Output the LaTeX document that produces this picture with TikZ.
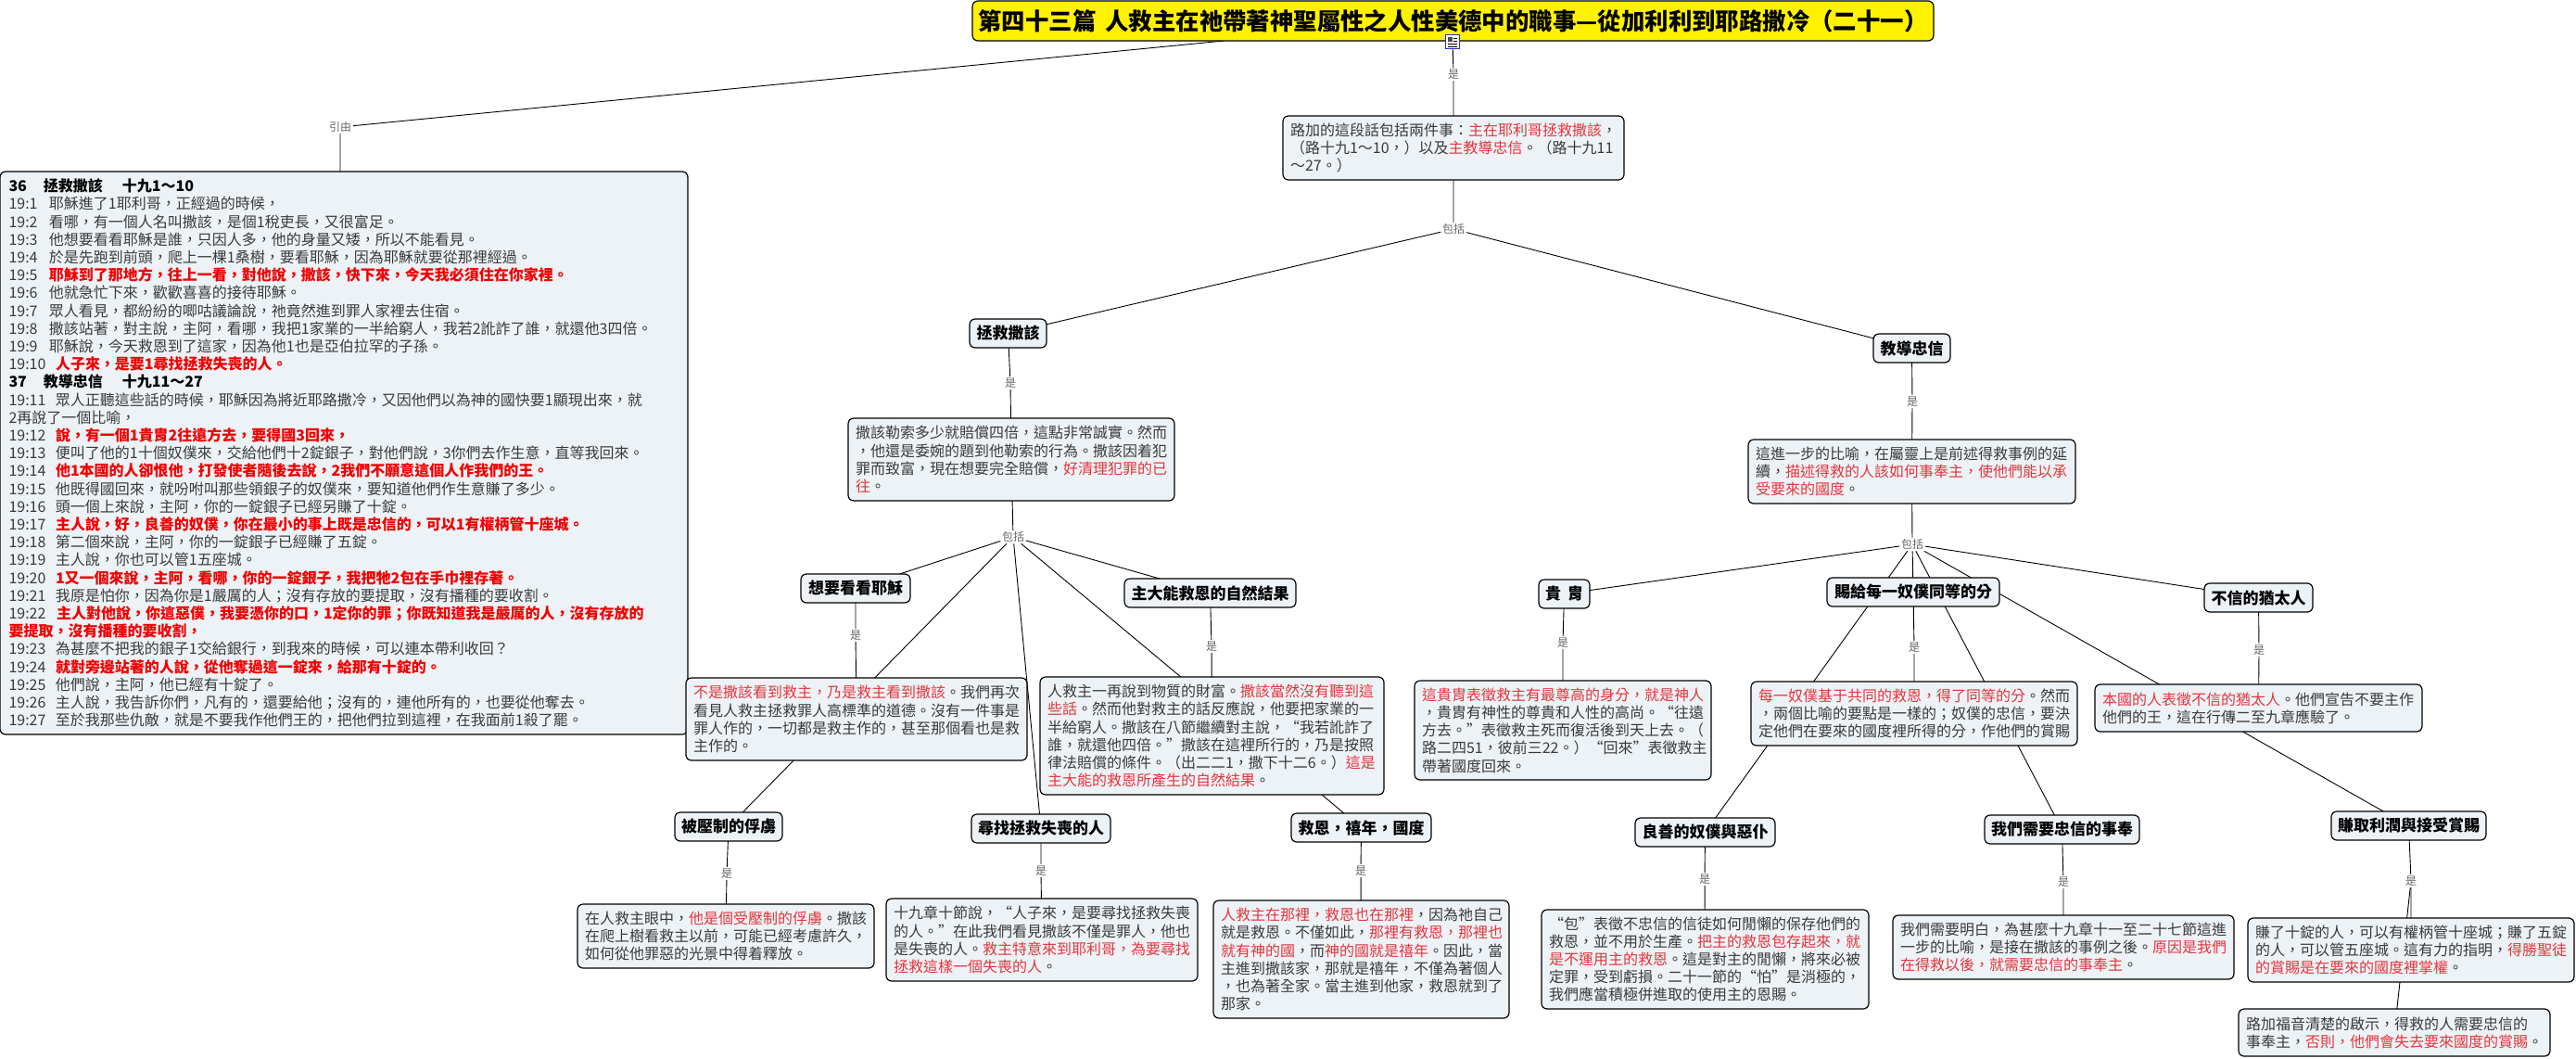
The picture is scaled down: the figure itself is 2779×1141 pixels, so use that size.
\documentclass[tikz,border=0pt]{standalone}
\usepackage{fontspec}
\setmainfont{Noto Sans CJK TC}
\usepackage{xcolor}
\definecolor{noteBg}{HTML}{ECF2F5}
\definecolor{inkGray}{HTML}{3A3A3A}
\definecolor{softRed}{HTML}{E5343C}
\definecolor{hotRed}{HTML}{F00000}
\definecolor{linkGray}{HTML}{666666}
\usetikzlibrary{positioning,backgrounds}
\newcommand{\rd}[1]{\textcolor{softRed}{#1}}
\newcommand{\hot}[1]{\textcolor{hotRed}{\bfseries #1}}
\newcommand{\vn}[2][43.5pt]{\makebox[#1][l]{#2}}
\tikzset{%
  titleBox/.style={%
    rectangle,
    rounded corners=6pt,
    draw=black,
    line width=1.2pt,
    fill=yellow,
    outer sep=0pt,
    anchor=north west,
    minimum width=1037pt,
    minimum height=43pt,
    font=\fontsize{25.4}{30}\selectfont\bfseries
  },
  noteBox/.style 2 args={%
    rectangle,
    rounded corners=6pt,
    draw=black,
    line width=1.2pt,
    fill=noteBg,
    text=inkGray,
    outer sep=0pt,
    inner xsep=8pt,
    inner ysep=2pt,
    anchor=north west,
    align=left,
    text width=#1pt-16pt,
    minimum width=#1pt,
    minimum height=#2pt,
    font=\fontsize{16}{19.2}\selectfont
  },
  topicBox/.style={%
    rectangle,
    rounded corners=6pt,
    draw=black,
    line width=1.2pt,
    fill=noteBg,
    outer sep=0pt,
    inner sep=2pt,
    anchor=north west,
    align=center,
    minimum width=#1pt,
    minimum height=31pt,
    font=\fontsize{17}{20}\selectfont\bfseries
  },
  linkLabel/.style={%
    fill=white,
    text=linkGray,
    inner sep=1.5pt,
    font=\fontsize{12}{14}\selectfont
  },
  edgeLine/.style={%
    draw=black,
    line width=0.9pt
  }
}
\begin{document}
\begin{tikzpicture}[x=1pt,y=-1pt]
            \useasboundingbox (0,0) rectangle (2779,1141);

            \node[titleBox] (title) at (1049,1) {第四十三篇\hspace{10pt}人救主在祂帶著神聖屬性之人性美德中的職事—從加利利到耶路撒冷（二十一）};
            \node[draw=blue!65!gray,line width=1pt,fill=white,minimum size=15pt,inner sep=0pt,outer sep=0pt] (docIcon) at (1567,45) {};
            \fill[black!70] (1562,40) rectangle (1567,45);
            \draw[black,line width=0.8pt] (1568,41) -- (1572,41) (1568,44) -- (1572,44) (1562,47) -- (1572,47) (1562,50) -- (1572,50);
            \coordinate (titleLeft) at ([xshift=-247pt]title.south);

            \node[linkLabel] (refLabel) at (367,137) {引由};
            \node[noteBox={739}{607},inner xsep=9.5pt] (intro) at (0,185) {%
{\color{black}\bfseries 36\hspace{18pt}拯救撒該\hspace{21pt}十九1～10}\\
\vn{19:1}耶穌進了1耶利哥，正經過的時候，\\
\vn{19:2}看哪，有一個人名叫撒該，是個1稅吏長，又很富足。\\
\vn{19:3}他想要看看耶穌是誰，只因人多，他的身量又矮，所以不能看見。\\
\vn{19:4}於是先跑到前頭，爬上一棵1桑樹，要看耶穌，因為耶穌就要從那裡經過。\\
\vn{19:5}\hot{耶穌到了那地方，往上一看，對他說，撒該，快下來，今天我必須住在你家裡。}\\
\vn{19:6}他就急忙下來，歡歡喜喜的接待耶穌。\\
\vn{19:7}眾人看見，都紛紛的唧咕議論說，祂竟然進到罪人家裡去住宿。\\
\vn{19:8}撒該站著，對主說，主阿，看哪，我把1家業的一半給窮人，我若2訛詐了誰，就還他3四倍。\\
\vn{19:9}耶穌說，今天救恩到了這家，因為他1也是亞伯拉罕的子孫。\\
\vn[50.5pt]{19:10}\hot{人子來，是要1尋找拯救失喪的人。}\\
{\color{black}\bfseries 37\hspace{18pt}教導忠信\hspace{21pt}十九11～27}\\
\vn[50.5pt]{19:11}眾人正聽這些話的時候，耶穌因為將近耶路撒冷，又因他們以為神的國快要1顯現出來，就\\
2再說了一個比喻，\\
\vn[50.5pt]{19:12}\hot{說，有一個1貴胄2往遠方去，要得國3回來，}\\
\vn[50.5pt]{19:13}便叫了他的1十個奴僕來，交給他們十2錠銀子，對他們說，3你們去作生意，直等我回來。\\
\vn[50.5pt]{19:14}\hot{他1本國的人卻恨他，打發使者隨後去說，2我們不願意這個人作我們的王。}\\
\vn[50.5pt]{19:15}他既得國回來，就吩咐叫那些領銀子的奴僕來，要知道他們作生意賺了多少。\\
\vn[50.5pt]{19:16}頭一個上來說，主阿，你的一錠銀子已經另賺了十錠。\\
\vn[50.5pt]{19:17}\hot{主人說，好，良善的奴僕，你在最小的事上既是忠信的，可以1有權柄管十座城。}\\
\vn[50.5pt]{19:18}第二個來說，主阿，你的一錠銀子已經賺了五錠。\\
\vn[50.5pt]{19:19}主人說，你也可以管1五座城。\\
\vn[50.5pt]{19:20}\hot{1又一個來說，主阿，看哪，你的一錠銀子，我把牠2包在手巾裡存著。}\\
\vn[50.5pt]{19:21}我原是怕你，因為你是1嚴厲的人；沒有存放的要提取，沒有播種的要收割。\\
\vn[51.5pt]{19:22}\hot{主人對他說，你這惡僕，我要憑你的口，1定你的罪；你既知道我是嚴厲的人，沒有存放的}\\
\hot{要提取，沒有播種的要收割，}\\
\vn[50.5pt]{19:23}為甚麼不把我的銀子1交給銀行，到我來的時候，可以連本帶利收回？\\
\vn[50.5pt]{19:24}\hot{就對旁邊站著的人說，從他奪過這一錠來，給那有十錠的。}\\
\vn[50.5pt]{19:25}他們說，主阿，他已經有十錠了。\\
\vn[50.5pt]{19:26}主人說，我告訴你們，凡有的，還要給他；沒有的，連他所有的，也要從他奪去。\\
\vn[50.5pt]{19:27}至於我那些仇敵，就是不要我作他們王的，把他們拉到這裡，在我面前1殺了罷。};

            \node[linkLabel] (isMain) at (1568,80) {是};
            \node[noteBox={368}{69}] (mainNote) at (1384,125) {路加的這段話包括兩件事：\rd{主在耶利哥拯救撒該}，\\（路十九1～10，）以及\rd{主教導忠信}。（路十九11\\～27。）};
            \node[linkLabel] (hasMain) at (1568,247) {包括};

            \node[topicBox=83] (topicSave) at (1046,344) {拯救撒該};
            \node[linkLabel] (isSave) at (1090,413) {是};
            \node[noteBox={352}{89}] (noteSave) at (915,451) {撒該勒索多少就賠償四倍，這點非常誠實。然而\\，他還是委婉的題到他勒索的行為。撒該因着犯\\罪而致富，現在想要完全賠償，\rd{好清理犯罪的已}\\\rd{往}。};
            \node[linkLabel] (hasSave) at (1093,579) {包括};

            \node[topicBox=118] (topicSee) at (864,619) {想要看看耶穌};
            \node[linkLabel] (isSee) at (923,685) {是};
            \node[noteBox={368}{89}] (noteSee) at (740,731) {\rd{不是撒該看到救主，乃是救主看到撒該}。我們再次\\看見人救主拯救罪人高標準的道德。沒有一件事是\\罪人作的，一切都是救主作的，甚至那個看也是救\\主作的。};

            \node[topicBox=185] (topicFruit) at (1213,624) {主大能救恩的自然結果};
            \node[linkLabel] (isFruit) at (1307,697) {是};
            \node[noteBox={371}{127}] (noteFruit) at (1122,730) {人救主一再說到物質的財富。\rd{撒該當然沒有聽到這}\\\rd{些話}。然而他對救主的話反應說，他要把家業的一\\半給窮人。撒該在八節繼續對主說，“我若訛詐了\\誰，就還他四倍。”撒該在這裡所行的，乃是按照\\律法賠償的條件。（出二二1，撒下十二6。）\rd{這是}\\\rd{主大能的救恩所產生的自然結果}。};

            \node[topicBox=116] (topicCaptive) at (728,876) {被壓制的俘虜};
            \node[linkLabel] (isCaptive) at (784,942) {是};
            \node[noteBox={320}{69}] (noteCaptive) at (623,975) {在人救主眼中，\rd{他是個受壓制的俘虜}。撒該\\在爬上樹看救主以前，可能已經考慮許久，\\如何從他罪惡的光景中得着釋放。};

            \node[topicBox=150] (topicSeek) at (1048,878) {尋找拯救失喪的人};
            \node[linkLabel] (isSeek) at (1123,939) {是};
            \node[noteBox={336}{89}] (noteSeek) at (956,969) {十九章十節說，“人子來，是要尋找拯救失喪\\的人。”在此我們看見撒該不僅是罪人，他也\\是失喪的人。\rd{救主特意來到耶利哥，為要尋找}\\\rd{拯救這樣一個失喪的人}。};

            \node[topicBox=151] (topicJubilee) at (1393,877) {救恩，禧年，國度};
            \node[linkLabel] (isJubilee) at (1468,939) {是};
            \node[noteBox={319}{127}] (noteJubilee) at (1309,971) {\rd{人救主在那裡，救恩也在那裡}，因為祂自己\\就是救恩。不僅如此，\rd{那裡有救恩，那裡也}\\\rd{就有神的國}，而\rd{神的國就是禧年}。因此，當\\主進到撒該家，那就是禧年，不僅為著個人\\，也為著全家。當主進到他家，救恩就到了\\那家。};

            \node[topicBox=83] (topicTeach) at (2021,360) {教導忠信};
            \node[linkLabel] (isTeach) at (2063,433) {是};
            \node[noteBox={353}{69}] (noteTeach) at (1886,474) {這進一步的比喻，在屬靈上是前述得救事例的延\\續，\rd{描述得救的人該如何事奉主，使他們能以承}\\\rd{受要來的國度}。};
            \node[linkLabel] (hasTeach) at (2063,587) {包括};

            \node[topicBox=55] (topicNoble) at (1660,625) {貴\hspace{7pt}胄};
            \node[linkLabel] (isNoble) at (1686,693) {是};
            \node[noteBox={320}{107}] (noteNoble) at (1526,734) {\rd{這貴胄表徵救主有最尊高的身分，就是神人}\\，貴胄有神性的尊貴和人性的高尚。“往遠\\方去。”表徵救主死而復活後到天上去。（\\路二四51，彼前三22。）“回來”表徵救主\\帶著國度回來。};

            \node[topicBox=186] (topicShare) at (1971,623) {賜給每一奴僕同等的分};
            \node[linkLabel] (isShare) at (2065,698) {是};
            \node[noteBox={352}{69}] (noteShare) at (1889,735) {\rd{每一奴僕基于共同的救恩，得了同等的分}。然而\\，兩個比喻的要點是一樣的；奴僕的忠信，要決\\定他們在要來的國度裡所得的分，作他們的賞賜};

            \node[topicBox=117] (topicJews) at (2378,629) {不信的猶太人};
            \node[linkLabel] (isJews) at (2437,701) {是};
            \node[noteBox={353}{51}] (noteJews) at (2260,738) {\rd{本國的人表徵不信的猶太人}。他們宣告不要主作\\他們的王，這在行傳二至九章應驗了。};

            \node[topicBox=151] (topicGood) at (1764,882) {良善的奴僕與惡仆};
            \node[linkLabel] (isGood) at (1839,948) {是};
            \node[noteBox={353}{107}] (noteGood) at (1663,981) {“包”表徵不忠信的信徒如何閒懶的保存他們的\\救恩，並不用於生產。\rd{把主的救恩包存起來，就}\\\rd{是不運用主的救恩}。這是對主的閒懶，將來必被\\定罪，受到虧損。二十一節的“怕”是消極的，\\我們應當積極併進取的使用主的恩賜。};

            \node[topicBox=167] (topicServe) at (2141,879) {我們需要忠信的事奉};
            \node[linkLabel] (isServe) at (2226,951) {是};
            \node[noteBox={368}{69}] (noteServe) at (2042,987) {我們需要明白，為甚麼十九章十一至二十七節這進\\一步的比喻，是接在撒該的事例之後。\rd{原因是我們}\\\rd{在得救以後，就需要忠信的事奉主}。};

            \node[topicBox=167] (topicEarn) at (2515,875) {賺取利潤與接受賞賜};
            \node[linkLabel] (isEarn) at (2601,950) {是};
            \node[noteBox={352}{69}] (noteEarn) at (2425,990) {賺了十錠的人，可以有權柄管十座城；賺了五錠\\的人，可以管五座城。這有力的指明，\rd{得勝聖徒}\\\rd{的賞賜是在要來的國度裡掌權}。};
            \node[noteBox={336}{51}] (noteLuke) at (2415,1088) {路加福音清楚的啟示，得救的人需要忠信的\\事奉主，\rd{否則，他們會失去要來國度的賞賜}。};

            \begin{scope}[on background layer]
            \draw[edgeLine] (titleLeft) -- (refLabel) -- (intro.north -| refLabel);
            \draw[edgeLine] (docIcon) -- (isMain) -- (mainNote) -- (hasMain);
            \draw[edgeLine] (hasMain) -- (topicSave);
            \draw[edgeLine] (hasMain) -- (topicTeach);

            \draw[edgeLine] (topicSave) -- (isSave) -- (noteSave) -- (hasSave);
            \draw[edgeLine] (hasSave) -- (topicSee);
            \draw[edgeLine] (hasSave) -- (topicCaptive);
            \draw[edgeLine] (hasSave) -- (topicSeek);
            \draw[edgeLine] (hasSave) -- (topicJubilee);
            \draw[edgeLine] (hasSave) -- (topicFruit);
            \draw[edgeLine] (topicSee) -- (isSee) -- (noteSee);
            \draw[edgeLine] (topicFruit) -- (isFruit) -- (noteFruit);
            \draw[edgeLine] (topicCaptive) -- (isCaptive) -- (noteCaptive);
            \draw[edgeLine] (topicSeek) -- (isSeek) -- (noteSeek);
            \draw[edgeLine] (topicJubilee) -- (isJubilee) -- (noteJubilee);

            \draw[edgeLine] (topicTeach) -- (isTeach) -- (noteTeach) -- (hasTeach);
            \draw[edgeLine] (hasTeach) -- (topicNoble);
            \draw[edgeLine] (hasTeach) -- (topicGood);
            \draw[edgeLine] (hasTeach) -- (topicShare);
            \draw[edgeLine] (hasTeach) -- (topicServe);
            \draw[edgeLine] (hasTeach) -- (topicEarn);
            \draw[edgeLine] (hasTeach) -- (topicJews);
            \draw[edgeLine] (topicNoble) -- (isNoble) -- (noteNoble);
            \draw[edgeLine] (topicShare) -- (isShare) -- (noteShare);
            \draw[edgeLine] (topicJews) -- (isJews) -- (noteJews);
            \draw[edgeLine] (topicGood) -- (isGood) -- (noteGood);
            \draw[edgeLine] (topicServe) -- (isServe) -- (noteServe);
            \draw[edgeLine] (topicEarn) -- (isEarn) -- (noteEarn);
            \draw[edgeLine] (isEarn) -- (noteLuke);
            \end{scope}

        \end{tikzpicture}
\end{document}
